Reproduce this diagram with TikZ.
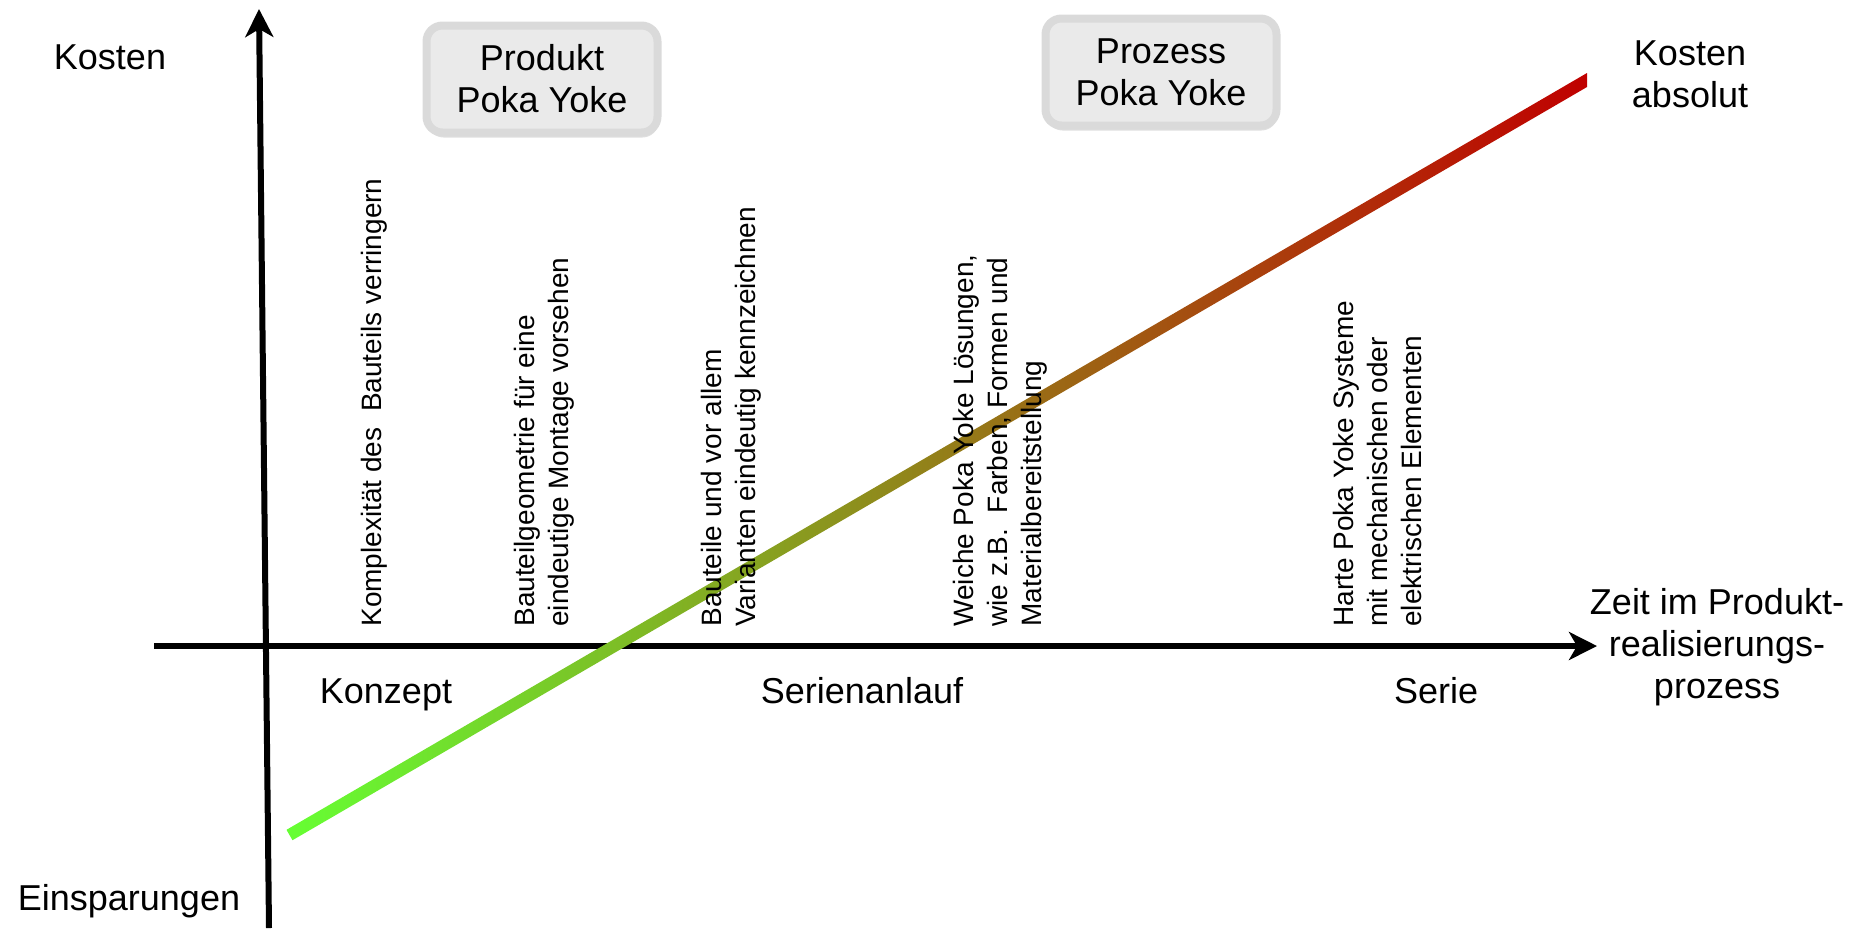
\documentclass[tikz,border=0pt]{standalone}
\usepackage{fontspec}
\setmainfont{Liberation Sans}
\usetikzlibrary{arrows.meta,shadows,calc}

\definecolor{lowgreen}{RGB}{102,255,51}
\definecolor{highred}{RGB}{192,0,0}
\definecolor{boxfill}{RGB}{234,234,234}
\definecolor{boxrim}{RGB}{218,218,218}

\tikzset{
  axis/.style={line width=3pt, -{Stealth[length=14pt,width=14pt,inset=4pt]}},
  pokabox/.style={draw=boxrim, fill=boxfill, line width=4pt, rounded corners=8pt,
    minimum width=115.5pt, minimum height=53.5pt, align=center, inner sep=0pt,
    font=\fontsize{18}{21}\selectfont,
    drop shadow={opacity=0.25, shadow xshift=0.5pt, shadow yshift=-2.5pt}},
  big/.style={font=\fontsize{18}{21}\selectfont, inner sep=0pt},
  measure/.style={rotate=90, anchor=north west, align=left, inner sep=0pt,
    font=\fontsize{14}{17}\selectfont},
}

\begin{document}
\begin{tikzpicture}[x=0.5pt, y=-0.5pt]
\useasboundingbox (0,0) rectangle (1862,928);

% axes
\coordinate (yfoot) at (269,928);
\coordinate (ytop) at (259,9);
\coordinate (xfoot) at (154,646);
\coordinate (xtip) at (1597,646);

\draw [axis] (xfoot) -- (xtip);
\draw [axis] (yfoot) -- (ytop);

% cost line, green to red
\coordinate (lo) at (289.5,835);
\coordinate (hi) at (1587,80);
\shade [left color=lowgreen, right color=highred]
  ($(lo)+(3,5.2)$) -- ($(hi)+(0,7)$) -- ($(hi)+(0,-7)$) -- ($(lo)-(3,5.2)$) -- cycle;

% axis labels
\node [big, anchor=base] (kosten) at (110,69) {Kosten};
\node [big, anchor=base] (einsp) at (129,910) {Einsparungen};
\node [big, align=center] (absolut) at (1690,74) {Kosten\\absolut};
\node [big, align=center] (zeit) at (1717,647) {Zeit im Produkt-\\realisierungs-\\prozess};

\node [big, anchor=base] (konzept) at (386,703) {Konzept};
\node [big, anchor=base] (anlauf) at (862,703) {Serienanlauf};
\node [big, anchor=base] (serie) at (1436,703) {Serie};

% boxes
\node [pokabox] (produkt) at (542,79) {Produkt\\Poka Yoke};
\node [pokabox] (prozess) at (1161,72) {Prozess\\Poka Yoke};

% measures
\node [measure] (m1) at (361,627) {Komplexität des~ Bauteils verringern};
\node [measure] (m2) at (514,627) {Bauteilgeometrie für eine\\eindeutige Montage vorsehen};
\node [measure] (m3) at (701,627) {Bauteile und vor allem\\Varianten eindeutig kennzeichnen};
\node [measure] (m4) at (953,627) {Weiche Poka Yoke Lösungen,\\wie z.B.~ Farben, Formen und\\Materialbereitstellung};
\node [measure] (m5) at (1333,627) {Harte Poka Yoke Systeme\\mit mechanischen oder\\elektrischen Elementen};

\end{tikzpicture}
\end{document}
